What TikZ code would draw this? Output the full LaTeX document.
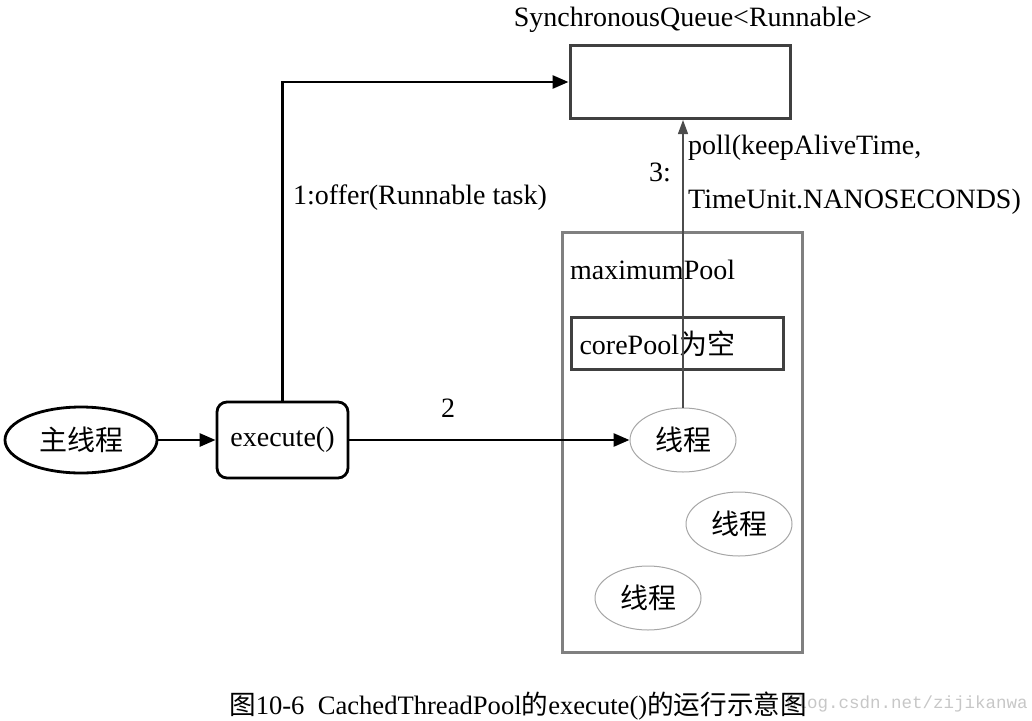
\documentclass[tikz,border=0pt]{standalone}
\usepackage{fontspec}
\setmainfont{Liberation Serif}
\newfontfamily\cjk{Noto Sans CJK SC}
\newfontfamily\wmfont{Liberation Mono}
\usetikzlibrary{shapes.geometric}
\usetikzlibrary{arrows.meta}
\newcommand{\zh}[1]{{\cjk #1}}
\tikzset{flow/.style={line width=2.8pt, -{Triangle[length=16pt,width=13pt]}},
%thin arrow for step 3
pollflow/.style={line width=1.2pt, black!70, -{Triangle[length=14pt,width=10pt]}},
darkbox/.style={draw=black!75, line width=3pt, inner sep=0pt},
threadnode/.style={ellipse, draw=black!35, line width=1pt, minimum width=106pt, minimum height=64pt, inner sep=0pt}}

\begin{document}
\begin{tikzpicture}[x=1pt,y=-1pt,font=\fontsize{28}{34}\selectfont]
\useasboundingbox (0,0) rectangle (1032,720);
% caller side
\node[ellipse, draw, line width=2.8pt, minimum width=152pt, minimum height=66pt, inner sep=0pt] (main) at (81,440) {\zh{主线程}};
\node[draw, rounded corners=10pt, line width=2.8pt, minimum width=131pt, minimum height=76pt, inner sep=0pt] (exec) at (282.5,440) {execute()};

% queue
\node[darkbox, minimum width=220pt, minimum height=73pt] (queue) at (680,82) {};
\node (qlabel) at (693,20) {SynchronousQueue<Runnable>};

% pool
\node[draw=black!50, line width=3pt, minimum width=240pt, minimum height=420pt, inner sep=0pt] (pool) at (682,442) {};
\node[anchor=west, inner sep=0pt] (plabel) at (570,270) {maximumPool};
\node[darkbox, anchor=north west, inner sep=8pt, text width=196pt, minimum height=52pt, align=left] (core) at (570,316) {corePool\zh{为空}};

% threads
\node[threadnode] (t1) at (683,440) {\zh{线程}};
\node[threadnode] (t2) at (739,524) {\zh{线程}};
\node[threadnode] (t3) at (648,598) {\zh{线程}};

% arrows
\draw[flow] (main) -- (exec);
\draw[flow] (exec.north) |- (queue.west);
\draw[flow] (exec) -- (t1);
\draw[pollflow] (t1.north) -- (t1.north |- queue.south);

%labels
\node[anchor=west, inner sep=0pt] (l1) at (293,198) {1:offer(Runnable task)};
\node[inner sep=0pt] (l2) at (448,408) {2};
\node[anchor=east, inner sep=0pt] (l3) at (671,172) {3:};
\node[anchor=west, inner sep=0pt] (l3a) at (688,148) {poll(keepAliveTime,};
\node[anchor=west, inner sep=0pt] (l3b) at (688,202) {TimeUnit.NANOSECONDS)};

% caption
\node[anchor=west, inner sep=0pt, text=black!22, font=\wmfont\fontsize{17.5}{20}\selectfont] (wm) at (786,704) {blog.csdn.net/zijikanwa};
\node[inner sep=0pt, font=\fontsize{26.6}{30}\selectfont] (cap) at (518,706) {\zh{图}10-6\ \ CachedThreadPool\zh{的}execute()\zh{的运行示意图}};
\end{tikzpicture}
\end{document}
